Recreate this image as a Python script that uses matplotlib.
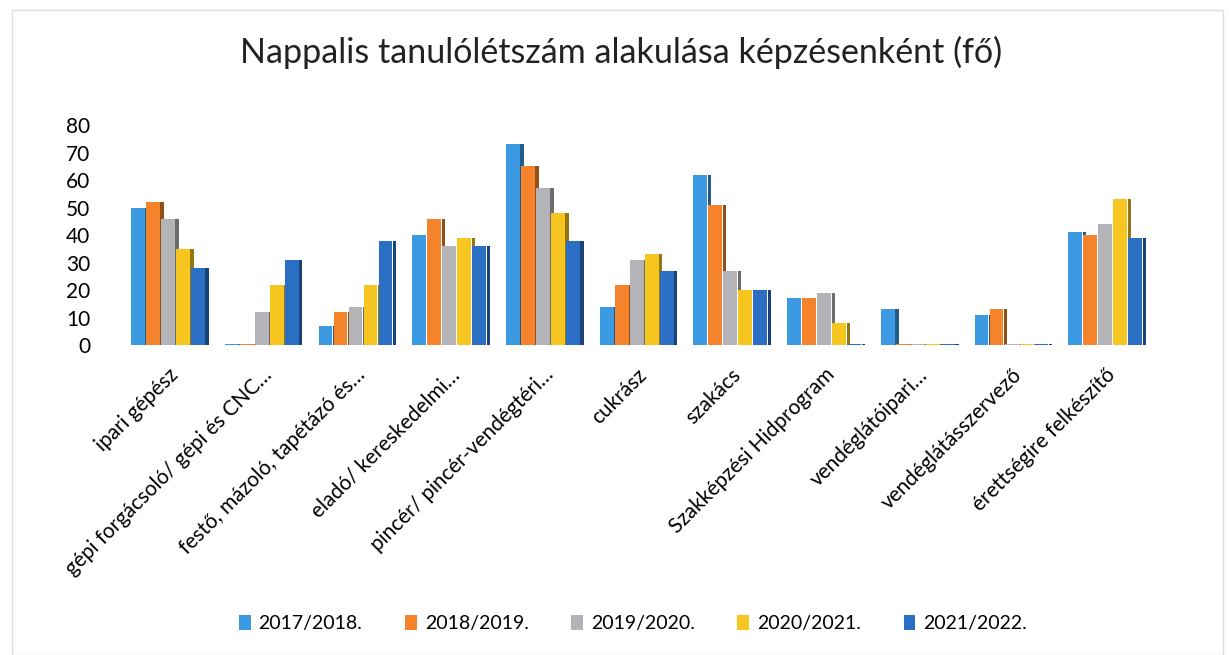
import matplotlib
matplotlib.use("Agg")
import matplotlib.pyplot as plt
import numpy as np
from matplotlib.patches import Rectangle
from matplotlib.colors import to_rgb

plt.rcParams['font.family'] = ['Lato', 'DejaVu Sans']

categories = [
    "ipari gépész",
    "gépi forgácsoló/ gépi és CNC…",
    "festő, mázoló, tapétázó és…",
    "eladó/ kereskedelmi…",
    "pincér/ pincér-vendégtéri…",
    "cukrász",
    "szakács",
    "Szakképzési Hidprogram",
    "vendéglátóipari…",
    "vendéglátásszervező",
    "érettségire felkészítő",
]
series_names = ["2017/2018.", "2018/2019.", "2019/2020.", "2020/2021.", "2021/2022."]
v2017 = [50, 0, 7, 40, 73, 14, 62, 17, 13, 11, 41]
v2018 = [52, 0, 12, 46, 65, 22, 51, 17, 0, 13, 40]
v2019 = [46, 12, 14, 36, 57, 31, 27, 19, 0, 0, 44]
v2020 = [35, 22, 22, 39, 48, 33, 20, 8, 0, 0, 53]
v2021 = [28, 31, 38, 36, 38, 27, 20, 0, 0, 0, 39]
series = [v2017, v2018, v2019, v2020, v2021]
colors = ["#3b9ae1", "#f5832b", "#b4b4b8", "#f7c520", "#2a6fc4"]

fig = plt.figure(figsize=(12.29, 6.55), dpi=100)
ax = fig.add_axes([0.0985, 0.473, 0.839, 0.336])

x = np.arange(len(categories))
bw = 0.16
for i, (vals, c) in enumerate(zip(series, colors)):
    pos = x + (i - 2) * bw
    vals = np.array(vals, dtype=float)
    shown = np.where(vals == 0, 0.35, vals)
    dark = tuple(v * 0.6 for v in to_rgb(c))
    # side face (3D look)
    ax.bar(pos + bw * 0.5, shown, width=bw * 0.22, bottom=0, color=dark,
           align='edge', zorder=2 + i)
    ax.bar(pos, shown, width=bw * 0.92, color=c, zorder=3 + i, label=series_names[i])

ax.set_ylim(0, 80)
ax.set_xlim(-0.5, len(categories) - 0.5)
ax.set_yticks(range(0, 81, 10))
ax.tick_params(axis='y', length=0, labelsize=15, pad=22)
ax.tick_params(axis='x', length=0, labelsize=15, pad=14)
ax.set_xticks(x)
ax.set_xticklabels(categories, rotation=45, ha='right', rotation_mode='anchor')
for s in ax.spines.values():
    s.set_visible(False)

fig.text(0.505, 0.92, "Nappalis tanulólétszám alakulása képzésenként (fő)",
         ha='center', va='center', fontsize=24.5, color='#222222')

handles, labels = ax.get_legend_handles_labels()
fig.legend(handles, labels, loc='center', bbox_to_anchor=(0.515, 0.048), ncol=5,
           frameon=False, fontsize=14, handlelength=0.6, handleheight=0.8,
           columnspacing=2.2, handletextpad=0.4)

fig.patches.append(Rectangle((0.01, 0.0), 0.985, 0.985, transform=fig.transFigure,
                             fill=False, edgecolor='#dddddd', linewidth=1))

fig.savefig("out.png", dpi=100)
